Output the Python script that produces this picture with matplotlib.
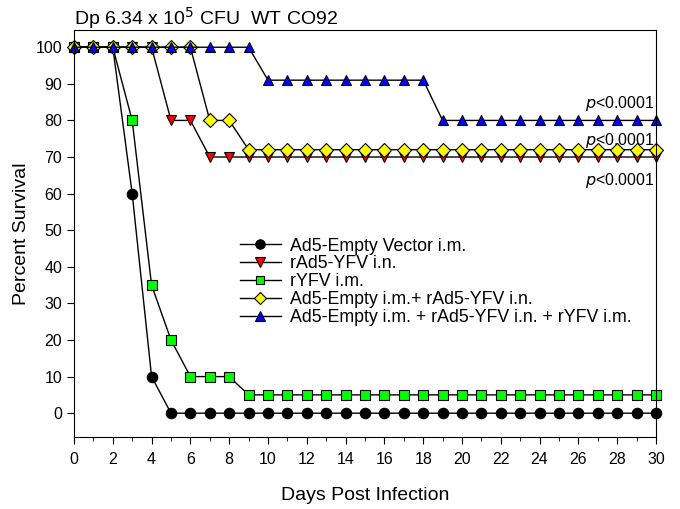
import matplotlib
matplotlib.use("Agg")
import matplotlib.pyplot as plt
from matplotlib.ticker import MultipleLocator

plt.rcParams['font.family'] = ['Liberation Sans', 'DejaVu Sans']

days = list(range(0, 31))
empty_vector = [100, 100, 100, 60, 10] + [0] * 26
rad5_yfv = [100, 100, 100, 100, 100, 80, 80] + [70] * 24
ryfv = [100, 100, 100, 80, 35, 20, 10, 10, 10] + [5] * 22
empty_rad5 = [100] * 7 + [80, 80] + [72] * 22
triple = [100] * 10 + [91] * 9 + [80] * 12

labels = ["Ad5-Empty Vector i.m.", "rAd5-YFV i.n.", "rYFV i.m.",
          "Ad5-Empty i.m.+ rAd5-YFV i.n.",
          "Ad5-Empty i.m. + rAd5-YFV i.n. + rYFV i.m."]
pvals = ["<0.0001", "<0.0001", "<0.0001"]
pval_y = [84.5, 74.5, 63.5]

fig = plt.figure(figsize=(6.8, 5.09), dpi=100)
ax = fig.add_axes([0.1088, 0.1415, 0.8559, 0.7995])

series = [
    (empty_vector, 'o', 'black', 7.5),
    (rad5_yfv, 'v', '#ff0000', 7.5),
    (ryfv, 's', '#00ff00', 6.8),
    (empty_rad5, 'D', '#ffff00', 6.8),
    (triple, '^', '#0000ff', 7.5),
]
for (vals, m, c, ms), lab in zip(series, labels):
    ax.plot(days, vals, color='black', lw=1.0, marker=m, markersize=ms,
            markerfacecolor=c, markeredgecolor='black', markeredgewidth=0.8,
            label=lab, clip_on=False)

ax.set_xlim(0, 30)
ax.set_ylim(-6.5, 104.7)
ax.xaxis.set_major_locator(MultipleLocator(2))
ax.xaxis.set_minor_locator(MultipleLocator(1))
ax.set_yticks(range(0, 101, 10))
ax.tick_params(axis='both', which='both', direction='out', labelsize=11.5)
ax.tick_params(axis='both', which='major', length=5)
ax.tick_params(axis='x', which='minor', length=3)
ax.tick_params(axis='x', pad=6)
ax.set_xlabel("Days Post Infection", fontsize=14, labelpad=14)
ax.set_ylabel("Percent Survival", fontsize=14, labelpad=4)

ax.text(0.0, 1.012, r"Dp 6.34 x 10$^{5}$ CFU  WT CO92", fontsize=14,
        ha='left', va='baseline', transform=ax.transAxes)

for y, p in zip(pval_y, pvals):
    ax.text(29.95, y, r"$\it{p}$" + p, ha='right', va='center', fontsize=11.5)

leg = ax.legend(loc='upper left', bbox_to_anchor=(0.27, 0.512), frameon=False,
                fontsize=12.8, handlelength=2.3, handletextpad=0.5,
                labelspacing=0.05, borderpad=0, markerscale=0.9)

fig.savefig("out.png", dpi=100)
